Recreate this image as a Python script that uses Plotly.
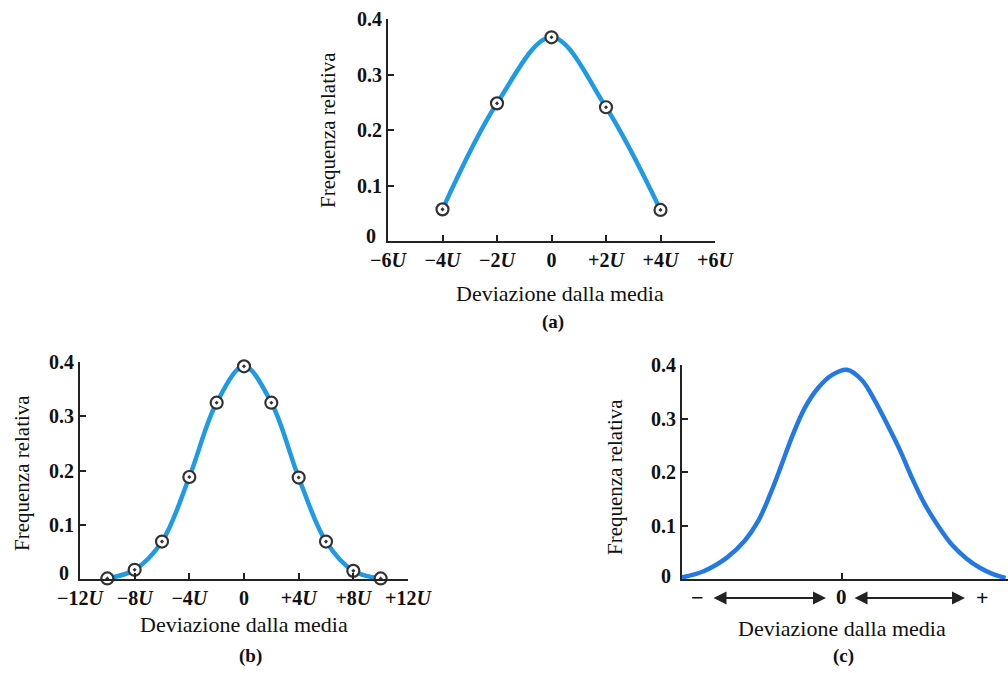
import plotly.graph_objects as go

# ---------------- data ----------------
# (a) 5 points, deviations in units of U
a_x = [-4, -2, 0, 2, 4]
a_y = [0.057, 0.248, 0.367, 0.241, 0.056]

# (b) 11 points
b_x = [-10, -8, -6, -4, -2, 0, 2, 4, 6, 8, 10]
b_y = [0.001, 0.017, 0.069, 0.188, 0.325, 0.392, 0.325, 0.187, 0.069, 0.015, 0.001]

# (c) continuous curve, x in arbitrary deviation units
c_x = [-2.67, -2.32, -1.92, -1.62, -1.40, -1.20, -1.02, -0.82, -0.62, -0.40, -0.17, 0.08,
       0.33, 0.55, 0.75, 0.97, 1.18, 1.38, 1.63, 1.85, 2.08, 2.30, 2.52, 2.73]
c_y = [0.003, 0.014, 0.040, 0.072, 0.108, 0.158, 0.210, 0.270, 0.320, 0.357, 0.381, 0.391,
       0.372, 0.333, 0.290, 0.240, 0.186, 0.140, 0.095, 0.062, 0.038, 0.021, 0.009, 0.002]

y_ticks = [0, 0.1, 0.2, 0.3, 0.4]
y_ticktext = ["", "0.1", "0.2", "0.3", "0.4"]
a_ticks = [-6, -4, -2, 0, 2, 4, 6]
a_ticktext = ["−6<i>U</i>", "−4<i>U</i>", "−2<i>U</i>", "0", "+2<i>U</i>", "+4<i>U</i>", "+6<i>U</i>"]
b_ticks = [-12, -8, -4, 0, 4, 8, 12]
b_ticktext = ["−12<i>U</i>", "−8<i>U</i>", "−4<i>U</i>", "0", "+4<i>U</i>", "+8<i>U</i>", "+12<i>U</i>"]

# ---------------- style ----------------
W, H = 1008, 673
SERIF = "Liberation Serif"
BLUE_AB = "#1f9be6"
BLUE_C = "#2478e4"
AX = "#222222"

def px(x):
    return x / W

def py(y):
    return 1 - y / H

def axis_common(**kw):
    d = dict(showline=True, linecolor=AX, linewidth=2, ticks="inside", ticklen=6,
             tickwidth=2, tickcolor=AX, showgrid=False, zeroline=False, automargin=False,
             tickfont=dict(family=SERIF, size=20, color="#111"))
    d.update(kw)
    return d

def bold(lst):
    return [("<b>" + t + "</b>") if t else "" for t in lst]

MARK = dict(symbol="circle-dot", size=12, color="white", line=dict(color="#333", width=2.2))

fig = go.Figure()

# (a)
fig.add_trace(go.Scatter(x=a_x, y=a_y, mode="lines", line=dict(color=BLUE_AB, width=4.5, shape="spline"),
                         xaxis="x", yaxis="y", cliponaxis=False, showlegend=False))
fig.add_trace(go.Scatter(x=a_x, y=a_y, mode="markers", marker=MARK,
                         xaxis="x", yaxis="y", cliponaxis=False, showlegend=False))
# (b)
fig.add_trace(go.Scatter(x=b_x, y=b_y, mode="lines", line=dict(color=BLUE_AB, width=4.5, shape="spline"),
                         xaxis="x2", yaxis="y2", cliponaxis=False, showlegend=False))
fig.add_trace(go.Scatter(x=b_x, y=b_y, mode="markers", marker=MARK,
                         xaxis="x2", yaxis="y2", cliponaxis=False, showlegend=False))
# (c)
fig.add_trace(go.Scatter(x=c_x, y=c_y, mode="lines", line=dict(color=BLUE_C, width=4.5, shape="spline"),
                         xaxis="x3", yaxis="y3", cliponaxis=False, showlegend=False))

ann = []
def text(x, y, s, size=19, bold_=False, angle=0):
    ann.append(dict(x=px(x), y=py(y), xref="paper", yref="paper", text=("<b>%s</b>" % s) if bold_ else s,
                    showarrow=False, textangle=angle, xanchor="center", yanchor="middle",
                    font=dict(family=SERIF, size=size, color="#111")))

# titles
text(560, 293, "Deviazione dalla media", 22)
text(553, 322, "(a)", 19, True)
text(328, 130, "Frequenza relativa", 21, angle=-90)
text(371, 236, "0", 20, True)

text(244, 624, "Deviazione dalla media", 22)
text(250, 656, "(b)", 19, True)
text(22, 473, "Frequenza relativa", 21, angle=-90)
text(64, 573, "0", 20, True)

text(842, 628, "Deviazione dalla media", 22)
text(843, 656, "(c)", 19, True)
text(615, 477, "Frequenza relativa", 21, angle=-90)
text(666, 576, "0", 20, True)

# (c) axis arrows
text(697, 597, "−", 22, True)
text(841, 597, "0", 21, True)
text(982, 597, "+", 22, True)
for x0, x1 in [(712, 826), (853, 965)]:
    ann.append(dict(x=px(x1), y=py(598), ax=x0 - x1, ay=0, xref="paper", yref="paper",
                    axref="pixel", ayref="pixel", text="", showarrow=True, arrowhead=2,
                    startarrowhead=2, arrowside="end+start", arrowsize=1.3, startarrowsize=1.3,
                    arrowwidth=2, arrowcolor=AX, standoff=0, startstandoff=0))

fig.update_layout(
    width=W, height=H, margin=dict(l=0, r=0, t=0, b=0, autoexpand=False),
    paper_bgcolor="white", plot_bgcolor="white",
    xaxis=axis_common(domain=[px(388), px(715)], range=[-6, 6], tickvals=a_ticks,
                      ticktext=bold(a_ticktext), anchor="y"),
    yaxis=axis_common(domain=[py(241), py(19)], range=[0, 0.4], tickvals=y_ticks,
                      ticktext=bold(y_ticktext), anchor="x"),
    xaxis2=axis_common(domain=[px(80), px(408)], range=[-12, 12], tickvals=b_ticks,
                       ticktext=bold(b_ticktext), anchor="y2"),
    yaxis2=axis_common(domain=[py(579), py(362)], range=[0, 0.4], tickvals=y_ticks,
                       ticktext=bold(y_ticktext), anchor="x2"),
    xaxis3=axis_common(domain=[px(682), 1.0], range=[-2.67, 2.77], tickvals=[0],
                       showticklabels=False, anchor="y3"),
    yaxis3=axis_common(domain=[py(579), py(365)], range=[0, 0.4], tickvals=y_ticks,
                       ticktext=bold(y_ticktext), anchor="x3"),
    annotations=ann,
)

fig.write_html("out.html")
